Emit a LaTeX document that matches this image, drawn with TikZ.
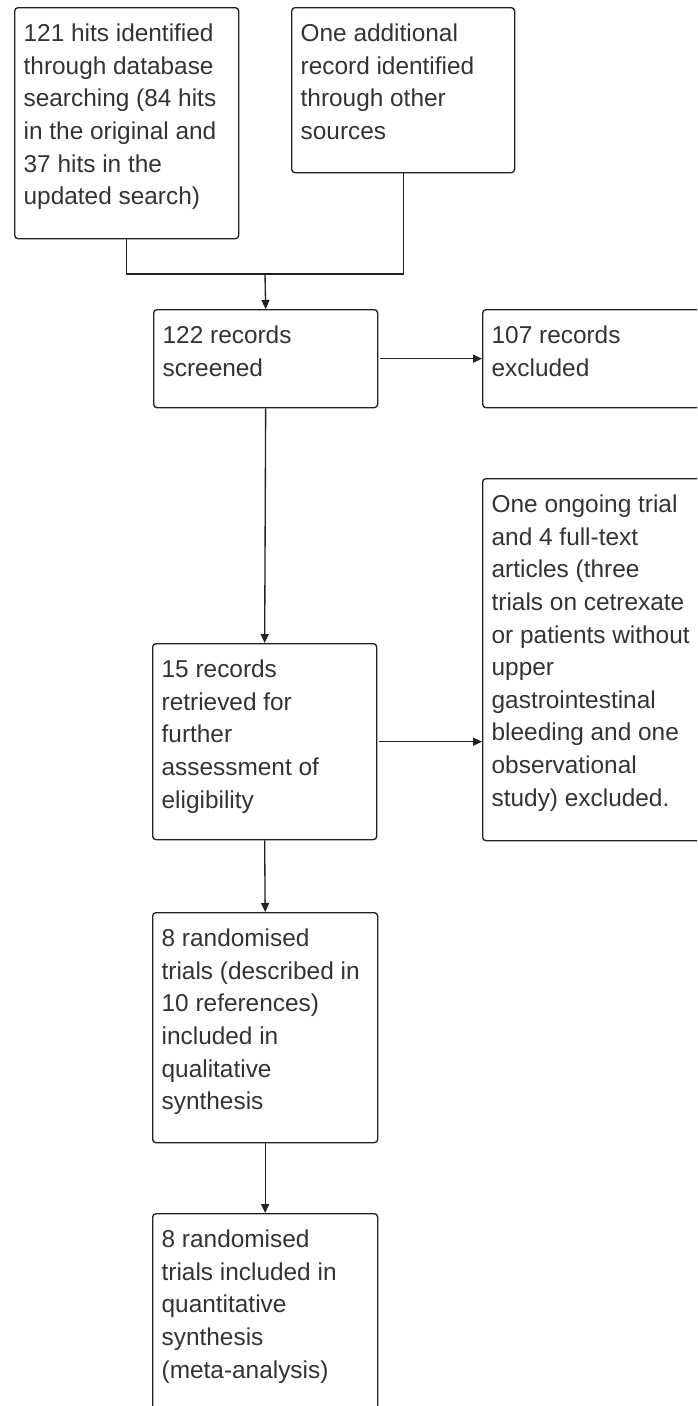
\documentclass[tikz,border=0pt]{standalone}
\usepackage{fontspec}
\setmainfont{Liberation Sans}
\usetikzlibrary{arrows.meta,calc}
\newdimen\pxu \pxu=0.75pt
\definecolor{txt}{HTML}{333333}
\definecolor{ln}{HTML}{222222}
\newcommand{\bxt}[3]{\begin{minipage}[t][#1\pxu][t]{#2\pxu}\raggedright\fontsize{18.3pt}{24.45pt}\selectfont\rule{0pt}{34\pxu}#3\end{minipage}}
\tikzset{
  flowbox/.style={draw=ln, line width=1pt, rounded corners=2.5pt, anchor=north west,
    inner xsep=9\pxu, inner ysep=0pt, text=txt, align=left},
  conn/.style={draw=ln, line width=1pt},
  arr/.style={conn, -{Triangle[length=6.75pt,width=6pt]}},
}
\begin{document}
\begin{tikzpicture}[x=0.75pt,y=-0.75pt]
\useasboundingbox (0,0) rectangle (697,1406);
\clip (0,0) rectangle (697,1406);
\node[flowbox] (b1) at (14,7) {\bxt{231}{206}{121 hits identified\\through database\\searching (84 hits\\in the original and\\37 hits in the\\updated search)}};
\node[flowbox] (b2) at (291,7) {\bxt{165}{205}{One additional\\record identified\\through other\\sources}};
\node[flowbox] (b3) at (153,309) {\bxt{98}{206}{122 records\\screened}};
\node[flowbox] (b4) at (482,309) {\bxt{98}{206}{107 records\\excluded}};
\node[flowbox] (b5) at (152,643) {\bxt{196}{206}{15 records\\retrieved for\\further\\assessment of\\eligibility}};
\node[flowbox] (b6) at (482,478) {\bxt{362}{206}{One ongoing trial\\and 4 full-text\\articles (three\\trials on cetrexate\\or patients without\\upper\\gastrointestinal\\bleeding and one\\observational\\study) excluded.}};
\node[flowbox] (b7) at (152,912) {\bxt{230}{207}{8 randomised\\trials (described in\\10 references)\\included in\\qualitative\\synthesis}};
\node[flowbox] (b8) at (152,1213) {\bxt{240}{207}{8 randomised\\trials included in\\quantitative\\synthesis\\(meta-analysis)}};
\coordinate (j) at (265,274);
\draw[conn] (b1.south) |- (j);
\draw[conn] (b2.south) |- (j);
\draw[arr] (j) -- (b3.north);
\draw[arr, shorten <=1.5pt] (b3.east) -- (b3.east -| b4.west);
\draw[arr] (b3.south) -- (b5.north);
\draw[arr, shorten <=1.5pt] (b5.east) -- (b5.east -| b6.west);
\draw[arr] (b5.south) -- (b7.north);
\draw[arr] (b7.south) -- (b8.north);
\end{tikzpicture}
\end{document}
